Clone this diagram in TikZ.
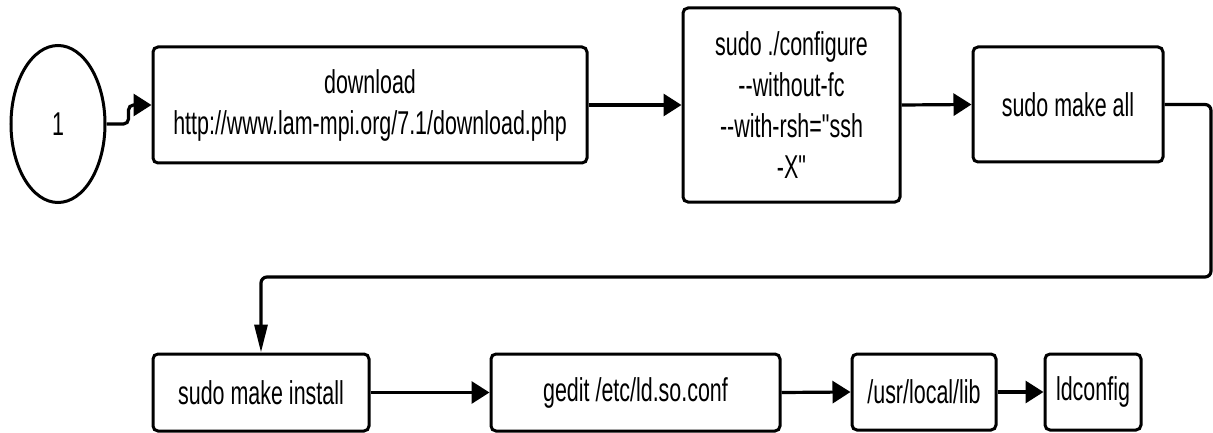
\documentclass[tikz,border=0pt]{standalone}
\usepackage{fontspec}
\setmainfont[FakeStretch=0.65,Ligatures=TeXOff]{Liberation Sans}
\usetikzlibrary{arrows.meta,shapes.geometric}
\begin{document}
\begin{tikzpicture}[x=1pt,y=-1pt,
  label font/.style={font=\fontsize{33}{41}\selectfont},
  stepbox/.style={draw, line width=3pt, rounded corners=5pt, align=center,
    inner sep=0pt, label font},
  startnode/.style={draw, ellipse, line width=3pt, inner sep=0pt, label font},
  flow/.style={line width=3.2pt, -{Triangle[length=18pt,width=22pt]}},
  flowdown/.style={line width=3.2pt, -{Triangle[length=28pt,width=13pt]}}]
\useasboundingbox (0,0) rectangle (1213,433);

% start marker
\node[startnode, minimum width=94pt, minimum height=157pt] (one) at (58,124) {1};

% upper row
\node[stepbox, minimum width=434pt, minimum height=116pt] (dl) at (370,105)
  {download\\http://www.lam-mpi.org/7.1/download.php};
\node[stepbox, minimum width=217pt, minimum height=194pt] (conf) at (791.5,105)
  {sudo ./configure\\--without-fc\\--with-rsh="ssh\\-X"};
\node[stepbox, minimum width=190pt, minimum height=115pt] (mkall) at (1068,104.5)
  {sudo make all};

% lower row
\node[stepbox, minimum width=216pt, minimum height=77pt] (inst) at (261,392.5)
  {sudo make install};
\node[stepbox, minimum width=289pt, minimum height=77pt] (gedit) at (635.5,392.5)
  {gedit /etc/ld.so.conf};
\node[stepbox, minimum width=144pt, minimum height=76pt] (lib) at (924,392)
  {/usr/local/lib};
\node[stepbox, minimum width=96pt, minimum height=76pt] (ldc) at (1093,392)
  {ldconfig};

% connectors
\draw[flow, rounded corners=5pt] (one.east) -- ++(22,0) |- (dl.west);
\draw[flow] (dl.east) -- (conf.west |- dl.east);
\draw[flow] (conf.east) -- (mkall.west);
\coordinate (turn) at (1211,277);
\draw[flowdown, rounded corners=6pt] (mkall.east) -| (turn) -| (inst.north);
\draw[flow] (inst.east) -- (gedit.west);
\draw[flow] (gedit.east) -- (lib.west);
\draw[flow] (lib.east) -- (ldc.west);
\end{tikzpicture}
\end{document}
